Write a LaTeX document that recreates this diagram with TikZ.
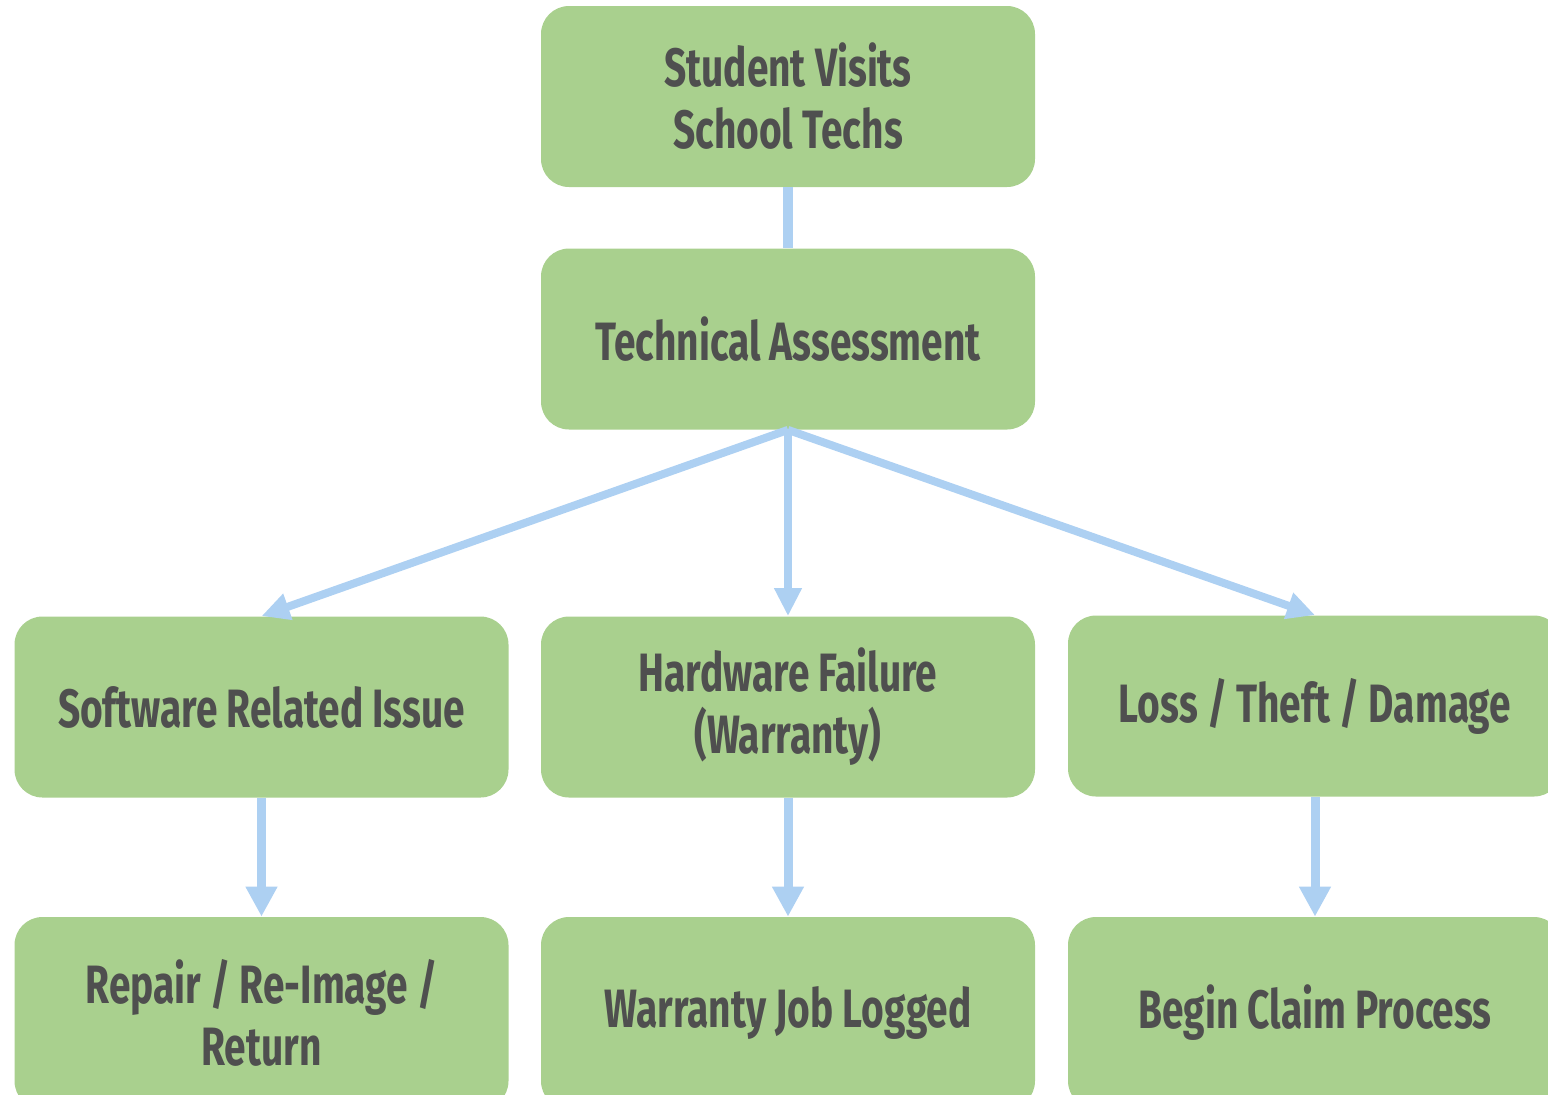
\documentclass[tikz,border=0pt]{standalone}
\usepackage{fontspec}
\setmainfont{Fira Sans}[FakeStretch=0.72]
\usetikzlibrary{arrows.meta}
\definecolor{boxgreen}{HTML}{A9D08E}
\definecolor{arrowblue}{HTML}{ADD0F2}
\definecolor{txtgray}{HTML}{4F4F4F}
\begin{document}
\begin{tikzpicture}[x=0.5pt,y=-0.5pt,
  box/.style={fill=boxgreen, rounded corners=14pt, minimum width=247pt, minimum height=90.5pt,
    text=txtgray, font=\fontsize{27}{31}\selectfont\bfseries, align=center, inner sep=0pt},
  lowbox/.style={box, minimum height=96pt},
  conn/.style={draw=arrowblue, line width=4pt, -{Triangle[length=14pt,width=13pt]}},
  down/.style={draw=arrowblue, line width=4.5pt, -{Triangle[length=15pt,width=15pt]}}]
\useasboundingbox (0,0) rectangle (1548,1094);
\begin{scope}
\clip (0,0) rectangle (1548,1094);
\node[box] (top) at (788,96.5) {Student Visits\\School Techs};
\node[box] (tech) at (788,339) {Technical Assessment};
\node[box] (sw) at (261.5,707) {Software Related Issue};
\node[box] (hw) at (788,707) {Hardware Failure\\(Warranty)};
\node[box] (loss) at (1315,706) {Loss / Theft / Damage};
\node[lowbox] (repair) at (261.5,1013) {Repair / Re-Image /\\Return};
\node[lowbox] (warr) at (788,1013) {Warranty Job Logged};
\node[lowbox] (claim) at (1315,1013) {Begin Claim Process};
\draw[arrowblue, line width=5pt] (top.south) -- (tech.north);
\draw[conn] (tech.south) -- (sw.north);
\draw[conn] (tech.south) -- (hw.north);
\draw[conn] (tech.south) -- (loss.north);
\draw[down] (sw.south) -- (repair.north);
\draw[down] (hw.south) -- (warr.north);
\draw[down] (loss.south) -- (claim.north);
\end{scope}
\end{tikzpicture}
\end{document}
